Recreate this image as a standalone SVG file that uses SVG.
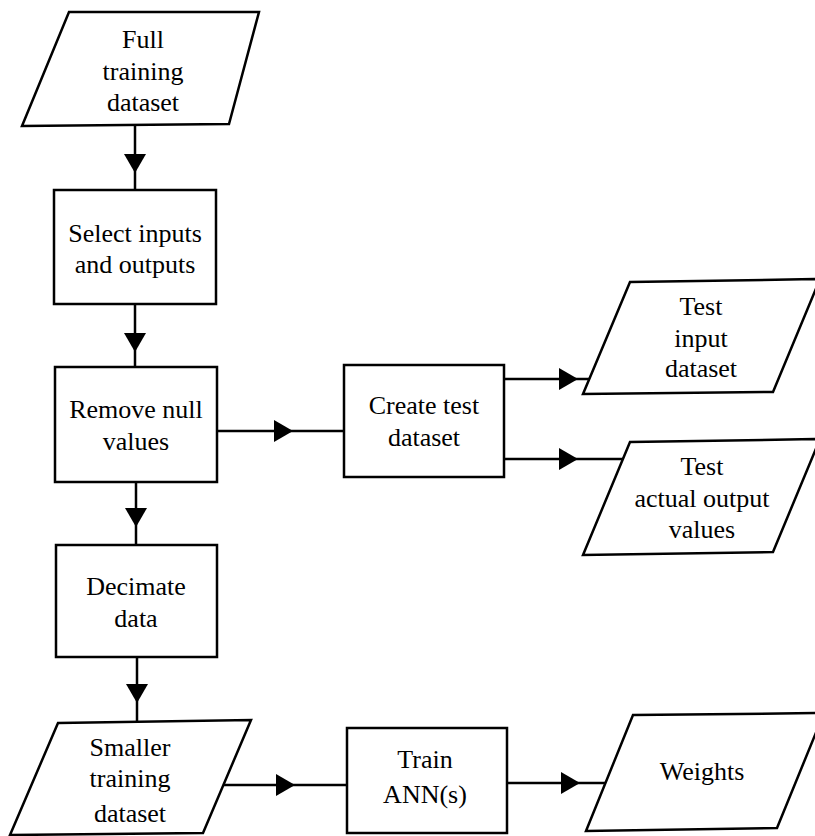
<svg xmlns="http://www.w3.org/2000/svg" width="815" height="836" viewBox="0 0 815 836">
<style>
.shape{fill:#fff;stroke:#000;stroke-width:2.5;stroke-linejoin:miter}
.conn{fill:none;stroke:#000;stroke-width:2.5;marker-mid:url(#arr)}
text{font-family:"Liberation Serif","Times New Roman",serif;font-size:26px;fill:#000;text-anchor:middle}
</style>
<defs>
<marker id="arr" viewBox="0 0 19 22" refX="19" refY="11" markerWidth="19" markerHeight="22" markerUnits="userSpaceOnUse" orient="auto">
<path d="M0,0 L19,11 L0,22 Z" fill="#000"/>
</marker>
</defs>
<rect width="815" height="836" fill="#fff"/>
<g id="connectors">
<path class="conn" d="M135,124 L135,173 L135,190"/>
<path class="conn" d="M135,304 L135,352 L135,367"/>
<path class="conn" d="M217,431 L293,431 L344,431"/>
<path class="conn" d="M504,379 L578,379 L589,379"/>
<path class="conn" d="M504,459 L578,459 L624,459"/>
<path class="conn" d="M136,482 L136,527 L136,545"/>
<path class="conn" d="M137,657 L137,703 L137,722"/>
<path class="conn" d="M223,785 L295,785 L347,785"/>
<path class="conn" d="M507,783 L580,783 L606,783"/>
</g>
<g id="full-training">
<polygon class="shape" points="69,12 259,12 229,124 22,126"/>
<text x="143" y="48">Full</text>
<text x="143" y="80">training</text>
<text x="143" y="111">dataset</text>
</g>
<g id="select">
<rect class="shape" x="54" y="190" width="162" height="114"/>
<text x="135" y="242">Select inputs</text>
<text x="135" y="273">and outputs</text>
</g>
<g id="remove">
<rect class="shape" x="55" y="367" width="162" height="115"/>
<text x="136" y="418">Remove null</text>
<text x="136" y="450">values</text>
</g>
<g id="create">
<rect class="shape" x="344" y="365" width="160" height="112"/>
<text x="424" y="414">Create test</text>
<text x="424" y="446">dataset</text>
</g>
<g id="test-input">
<polygon class="shape" points="630,282 820,279 773,392 583,394"/>
<text x="701" y="315">Test</text>
<text x="701" y="347">input</text>
<text x="701" y="377">dataset</text>
</g>
<g id="test-actual">
<polygon class="shape" points="630,442 820,439 773,552 583,555"/>
<text x="702" y="475">Test</text>
<text x="702" y="507">actual output</text>
<text x="702" y="538">values</text>
</g>
<g id="decimate">
<rect class="shape" x="56" y="545" width="161" height="112"/>
<text x="136" y="595">Decimate</text>
<text x="136" y="627">data</text>
</g>
<g id="smaller">
<polygon class="shape" points="58,723 251,720 203,833 10,835"/>
<text x="130" y="756">Smaller</text>
<text x="130" y="787">training</text>
<text x="130" y="822">dataset</text>
</g>
<g id="train">
<rect class="shape" x="347" y="728" width="160" height="105"/>
<text x="425" y="768">Train</text>
<text x="425" y="803">ANN(s)</text>
</g>
<g id="weights">
<polygon class="shape" points="633,715 824,713 777,828 586,831"/>
<text x="702" y="780">Weights</text>
</g>
</svg>
